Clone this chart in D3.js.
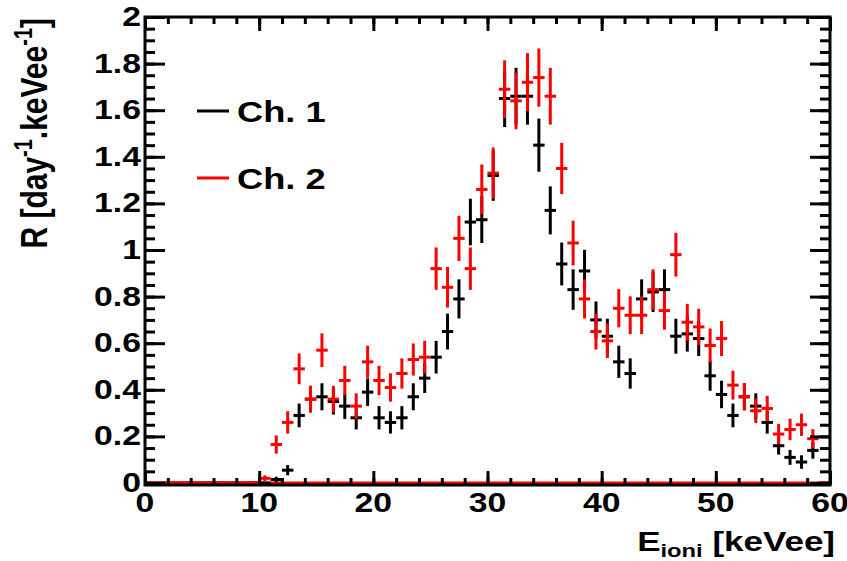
<!DOCTYPE html>
<html><head><meta charset="utf-8">
<script src="https://cdn.jsdelivr.net/npm/d3@7"></script>
<style>
body{margin:0;background:#fff}
text{font-family:"Liberation Sans",Arial,Helvetica,sans-serif;font-weight:bold;fill:#000}
</style>
</head><body>
<svg id="c" width="847" height="561"></svg>
<script>
// ---- data ----
const binCenters = d3.range(60).map(k => k + 0.5);   // 1 keVee bins, 0..60
const ch1 = [0,0,0,0,0,0,0,0,0,0,
  0,0.015,0.055,0.29,0.36,0.37,0.35,0.33,0.28,0.39,
  0.28,0.26,0.28,0.37,0.45,0.54,0.65,0.79,1.12,1.13,
  1.32,1.65,1.66,1.66,1.45,1.17,0.94,0.83,0.91,0.70,
  0.63,0.52,0.47,0.79,0.82,0.83,0.63,0.64,0.62,0.46,
  0.38,0.29,0.37,0.33,0.26,0.16,0.11,0.09,0.14,0];
const ch1Err = [0,0,0,0,0,0,0,0,0,0,
  0,0.012,0.022,0.051,0.057,0.058,0.056,0.055,0.05,0.059,
  0.05,0.048,0.05,0.058,0.064,0.07,0.077,0.084,0.1,0.1,
  0.109,0.122,0.122,0.122,0.114,0.103,0.092,0.087,0.091,0.079,
  0.075,0.069,0.065,0.084,0.086,0.087,0.075,0.076,0.075,0.064,
  0.059,0.051,0.058,0.055,0.048,0.038,0.032,0.029,0.036,0];
const ch2 = [0,0,0,0,0,0,0,0,0,0,
  0.02,0.165,0.26,0.49,0.36,0.57,0.36,0.44,0.33,0.52,
  0.44,0.41,0.47,0.53,0.54,0.92,0.84,1.05,0.92,1.26,
  1.33,1.69,1.64,1.72,1.74,1.66,1.35,1.03,0.79,0.65,
  0.61,0.75,0.72,0.72,0.83,0.74,0.98,0.69,0.67,0.59,
  0.62,0.42,0.37,0.31,0.32,0.21,0.23,0.25,0.19,0];
const ch2Err = [0,0,0,0,0,0,0,0,0,0,
  0.013,0.039,0.048,0.066,0.057,0.072,0.057,0.063,0.055,0.069,
  0.063,0.061,0.065,0.069,0.07,0.091,0.087,0.097,0.091,0.107,
  0.11,0.124,0.122,0.125,0.125,0.122,0.11,0.096,0.084,0.077,
  0.074,0.082,0.081,0.081,0.087,0.082,0.094,0.079,0.078,0.073,
  0.075,0.062,0.058,0.053,0.054,0.044,0.046,0.048,0.041,0];
const xMajorTicks = [0,10,20,30,40,50,60];
const xMinorTicks = d3.range(0,61,2);
const yMajorTicks = [0,0.2,0.4,0.6,0.8,1,1.2,1.4,1.6,1.8,2];
const yMinorTicks = d3.range(0,2.001,0.05);
const seriesNames = ["Ch. 1","Ch. 2"];
const seriesColors = ["#000000","#ff0000"];

// ---- layout ----
const L=145, R=830, T=17, B=483;
const svg = d3.select("#c");
const x = d3.scaleLinear().domain([0,60]).range([L,R]);
const y = d3.scaleLinear().domain([0,2]).range([B,T]);
const SX = 1.25; // horizontal text stretch of the original picture

const series = [
  {name:seriesNames[0], color:seriesColors[0], v:ch1, e:ch1Err},
  {name:seriesNames[1], color:seriesColors[1], v:ch2, e:ch2Err}
];

// red zero baseline across the full range
svg.append("line").attr("x1",x(0)).attr("x2",x(60)).attr("y1",y(0)).attr("y2",y(0))
  .attr("stroke",seriesColors[1]).attr("stroke-width",3);

// data (drawn before frame so the frame sits on top of zero bins)
series.forEach(s=>{
  const g = svg.append("g").attr("stroke",s.color).attr("stroke-width",3).attr("fill","none");
  binCenters.forEach((c,i)=>{
    const v=s.v[i], e=s.e[i];
    g.append("line").attr("x1",x(c-0.5)).attr("x2",x(c+0.5)).attr("y1",y(v)).attr("y2",y(v));
    if(e>0) g.append("line").attr("x1",x(c)).attr("x2",x(c)).attr("y1",y(v-e)).attr("y2",y(v+e));
  });
});

// frame
const FB = B+2;
svg.append("rect").attr("x",L).attr("y",T).attr("width",R-L).attr("height",FB-T)
  .attr("fill","none").attr("stroke","#000").attr("stroke-width",3);

function styleAxis(g){ g.select(".domain").remove(); g.selectAll("line").attr("stroke","#000").attr("stroke-width",3); }
// x ticks bottom/top
svg.append("g").attr("transform",`translate(0,${FB})`).call(d3.axisBottom(x).tickValues(xMinorTicks).tickSize(-7).tickFormat("")).call(styleAxis);
svg.append("g").attr("transform",`translate(0,${FB})`).call(d3.axisBottom(x).tickValues(xMajorTicks).tickSize(-14).tickFormat("")).call(styleAxis);
svg.append("g").attr("transform",`translate(0,${T})`).call(d3.axisTop(x).tickValues(xMinorTicks).tickSize(-7).tickFormat("")).call(styleAxis);
svg.append("g").attr("transform",`translate(0,${T})`).call(d3.axisTop(x).tickValues(xMajorTicks).tickSize(-14).tickFormat("")).call(styleAxis);
// y ticks left/right
svg.append("g").attr("transform",`translate(${L},0)`).call(d3.axisLeft(y).tickValues(yMinorTicks).tickSize(-10).tickFormat("")).call(styleAxis);
svg.append("g").attr("transform",`translate(${L},0)`).call(d3.axisLeft(y).tickValues(yMajorTicks).tickSize(-20).tickFormat("")).call(styleAxis);
svg.append("g").attr("transform",`translate(${R},0)`).call(d3.axisRight(y).tickValues(yMinorTicks).tickSize(-10).tickFormat("")).call(styleAxis);
svg.append("g").attr("transform",`translate(${R},0)`).call(d3.axisRight(y).tickValues(yMajorTicks).tickSize(-20).tickFormat("")).call(styleAxis);

// tick labels
const fs = 27;
xMajorTicks.forEach(t=>{
  svg.append("text").attr("transform",`translate(${x(t)},${FB+27}) scale(${SX},1)`)
    .attr("text-anchor","middle").attr("font-size",fs).text(String(t));
});
yMajorTicks.forEach(t=>{
  svg.append("text").attr("transform",`translate(${L-4},${y(t)+9}) scale(${SX},1)`)
    .attr("text-anchor","end").attr("font-size",fs).text(String(t));
});

// axis titles
const xt = svg.append("text").attr("transform",`translate(835,551) scale(${SX},1)`).attr("text-anchor","end").attr("font-size",28);
xt.append("tspan").text("E");
xt.append("tspan").attr("font-size",19).attr("dy",6).text("ioni");
xt.append("tspan").attr("dy",-6).text(" [keVee]");

const yt = svg.append("text").attr("transform",`translate(47,18) scale(${SX},1) rotate(-90)`).attr("text-anchor","end").attr("font-size",30);
yt.append("tspan").text("R [day");
yt.append("tspan").attr("font-size",20).attr("dy",-12).text("-1");
yt.append("tspan").attr("dy",12).text(".keVee");
yt.append("tspan").attr("font-size",20).attr("dy",-12).text("-1");
yt.append("tspan").attr("dy",12).text("]");

// legend
series.forEach((s,i)=>{
  const ly = 111 + i*67;
  svg.append("line").attr("x1",197).attr("x2",229).attr("y1",ly).attr("y2",ly).attr("stroke",s.color).attr("stroke-width",3);
  svg.append("text").attr("transform",`translate(237,${ly+11}) scale(${SX},1)`).attr("font-size",29).text(s.name);
});
</script>
</body></html>
